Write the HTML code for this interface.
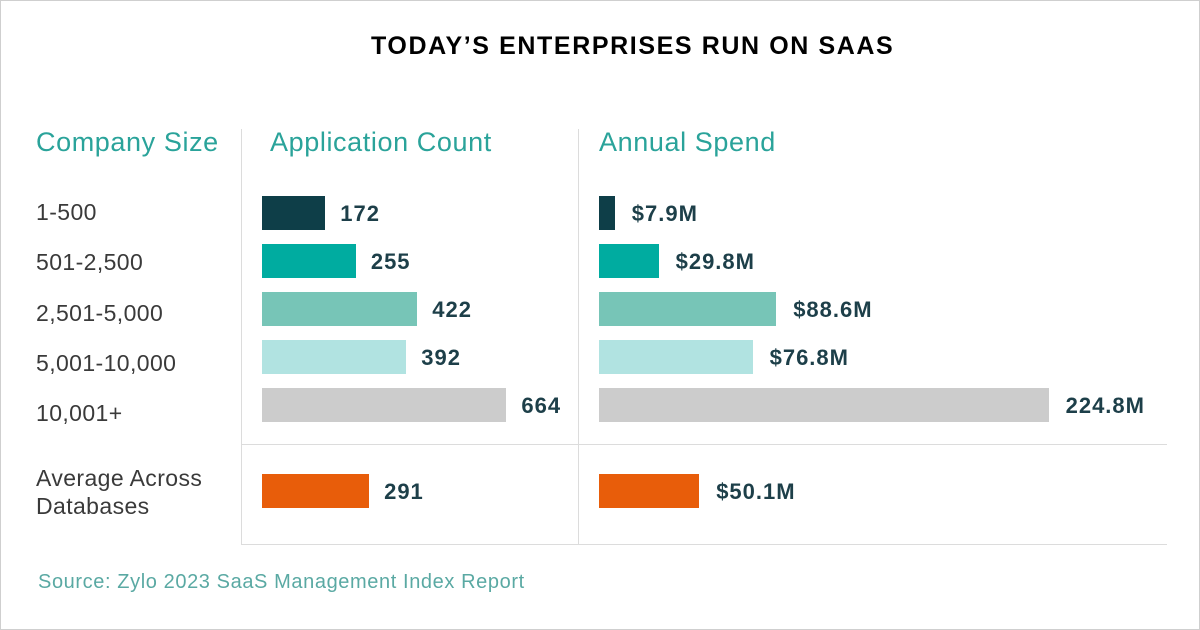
<!DOCTYPE html>
<html><head><meta charset="utf-8"><style>
body{margin:0;background:#fff;font-family:"Liberation Sans",sans-serif}
#wrap{position:relative;width:1198px;height:628px;border:1px solid #cfcfcf;overflow:hidden}
.t{position:absolute;white-space:nowrap}
.hd{color:#2aa39a;font-size:27px;top:126px;letter-spacing:0.6px}
.lb{color:#3a3a3a;font-size:23px;letter-spacing:0.4px}
.v{font-weight:bold;color:#1d3f49;font-size:22px;letter-spacing:1px}
.ln{position:absolute;background:#dcdcdc}
.bar{position:absolute;height:34px}
</style></head><body>
<div id="wrap">
<div class="t" style="left:370px;top:31px;font-size:25px;font-weight:bold;color:#000;letter-spacing:1.6px">TODAY’S ENTERPRISES RUN ON SAAS</div>
<div class="t hd" style="left:35px">Company Size</div>
<div class="t hd" style="left:269px">Application Count</div>
<div class="t hd" style="left:598px">Annual Spend</div>
<div class="ln" style="left:240px;top:128px;width:1px;height:415px"></div>
<div class="ln" style="left:577px;top:128px;width:1px;height:415px"></div>
<div class="ln" style="left:240px;top:443px;width:926px;height:1px"></div>
<div class="ln" style="left:240px;top:543px;width:926px;height:1px"></div>
<div class="t" style="left:37px;top:570px;font-size:20px;color:#5aa9a3;letter-spacing:0.6px">Source: Zylo 2023 SaaS Management Index Report</div>
<div class="t lb" style="left:35px;top:463px;line-height:28px">Average Across<br>Databases</div>
</div>
<script>
const categories=["1-500","501-2,500","2,501-5,000","5,001-10,000","10,001+"];
const appCounts=[172,255,422,392,664];
const spends=[7.9,29.8,88.6,76.8,224.8];
const spendLabels=["$7.9M","$29.8M","$88.6M","$76.8M","224.8M"];
const avgApp=291;
const avgSpend=50.1;
const avgSpendLabel="$50.1M";
const colors=["#0e3e48","#00aca0","#77c5b7","#b1e3e1","#cccccc"];
const avgColor="#e85d0a";
const w=document.getElementById('wrap');
const xApp=v=>v*0.368, xSpend=v=>v*2.0;
function mk(cls,name,css,txt){const d=document.createElement('div');d.className=cls;


d.style.cssText=css;if(txt)d.textContent=txt;w.appendChild(d);return d;}
function row(y,ly,label,app,sp,spl,col,key){
 if(label)mk('t lb','label-'+key,`left:35px;top:${ly}px`,label);
 const a=Math.max(xApp(app),8);
 mk('bar','app-bar-'+key,`left:261px;top:${y}px;width:${a}px;background:${col}`);
 mk('t v','app-value-'+key,`left:${261+a+15}px;top:${y+5}px`,String(app));
 const s=Math.max(xSpend(sp),8);
 mk('bar','spend-bar-'+key,`left:598px;top:${y}px;width:${s}px;background:${col}`);
 mk('t v','spend-value-'+key,`left:${598+s+17}px;top:${y+5}px`,spl);
}
categories.forEach((c,i)=>row(195+i*48,198+i*50.3,c,appCounts[i],spends[i],spendLabels[i],colors[i],'row-'+(i+1)));
row(473,0,null,avgApp,avgSpend,avgSpendLabel,avgColor,'average');
</script>
</body></html>
